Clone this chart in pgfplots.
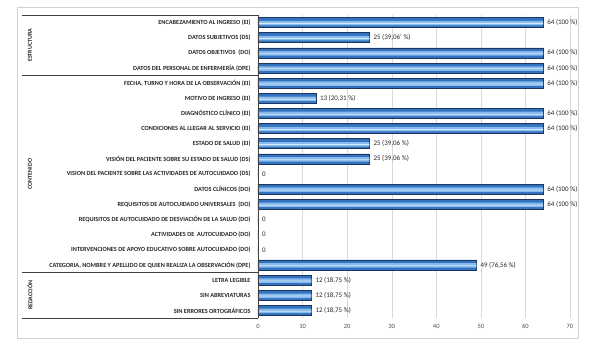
\documentclass[border=0pt]{standalone}
\usepackage{pgfplots}
\pgfplotsset{compat=1.18}
\usepackage{fontspec}
\setmainfont{Carlito}
\definecolor{barE}{HTML}{3372BE}
\definecolor{barM}{HTML}{86B9EC}
\definecolor{barL}{HTML}{D6EAFB}
\definecolor{barD}{HTML}{1B365F}
\pgfplotstableread{
v y
64 0
25 1
64 2
64 3
64 4
13 5
64 6
64 7
25 8
25 9
0 10
64 11
64 12
0 13
0 14
0 15
49 16
12 17
12 18
12 19
}\vals
\begin{document}
\begin{tikzpicture}
\begin{axis}[
  scale only axis, width=312bp, height=303bp,
  xmin=0, xmax=70, ymin=-0.5, ymax=19.5, y dir=reverse,
  clip=false,
  axis line style={draw=none},
  xtick={0,10,...,70},
  xmajorgrids, grid style={draw=gray!30, line width=0.4pt},
  major tick length=0pt,
  ytick={0,...,19},
  yticklabels={
    ENCABEZAMIENTO AL INGRESO (EI),
    DATOS SUBJETIVOS (DS),
    DATOS OBJETIVOS\ \ (DO),
    DATOS DEL PERSONAL DE ENFERMERÍA (DPE),
    {FECHA, TURNO Y HORA DE LA OBSERVACIÓN (EI)},
    MOTIVO DE INGRESO (EI),
    DIAGNÓSTICO CLÍNICO (EI),
    CONDICIONES AL LLEGAR AL SERVICIO (EI),
    ESTADO DE SALUD (EI),
    VISIÓN DEL PACIENTE SOBRE SU ESTADO DE SALUD (DS),
    VISION DEL PACIENTE SOBRE LAS ACTIVIDADES DE AUTOCUIDADO (DS),
    DATOS CLÍNICOS (DO),
    REQUISITOS DE AUTOCUIDADO UNIVERSALES\ \ (DO),
    REQUISITOS DE AUTOCUIDADO DE DESVIACIÓN DE LA SALUD (DO),
    ACTIVIDADES DE\ \ AUTOCUIDADO (DO),
    INTERVENCIONES DE APOYO EDUCATIVO SOBRE AUTOCUIDADO (DO),
    {CATEGORIA, NOMBRE Y APELLIDO DE QUIEN REALIZA LA OBSERVACIÓN (DPE)},
    LETRA LEGIBLE,
    SIN ABREVIATURAS,
    SIN ERRORES ORTOGRÁFICOS},
  yticklabel style={font=\fontsize{6.3}{7}\selectfont\bfseries, text=black!85},
  ytick style={draw=none},
  y tick label style={xshift=-4bp},
  /pgf/number format/assume math mode=true,
  xticklabel style={font=\fontsize{6.5}{7}\selectfont, text=black!70, yshift=-3bp},
  xbar, bar shift=0pt,
]
\addplot[draw=barD, line width=0.6pt, fill=barE, bar width=10bp,
  point meta=explicit symbolic,
  nodes near coords={\pgfplotspointmeta},
  every node near coord/.append style={font=\fontsize{7}{8}\selectfont, text=black!85, anchor=west, xshift=0.5bp}]
coordinates {
  (64,0) [{64 (100 \%)}]
  (25,1) [{25 (39,06' \%)}]
  (64,2) [{64 (100 \%)}]
  (64,3) [{64 (100 \%)}]
  (64,4) [{64 (100 \%)}]
  (13,5) [{13 (20,31 \%)}]
  (64,6) [{64 (100 \%)}]
  (64,7) [{64 (100 \%)}]
  (25,8) [{25 (39,06 \%)}]
  (25,9) [{25 (39,06 \%)}]
  (0,10) [{0}]
  (64,11) [{64 (100 \%)}]
  (64,12) [{64 (100 \%)}]
  (0,13) [{0}]
  (0,14) [{0}]
  (0,15) [{0}]
  (49,16) [{49 (76,56 \%)}]
  (12,17) [{12 (18,75 \%)}]
  (12,18) [{12 (18,75 \%)}]
  (12,19) [{12 (18,75 \%)}]
};
\addplot[draw=none, fill=barM, bar width=4.5bp, bar shift=-0.5bp] table[x=v, y=y] {\vals};
\addplot[draw=none, fill=barL, bar width=0.8bp, bar shift=-0.8bp] table[x=v, y=y] {\vals};
\draw[black!75, line width=0.6pt] (axis cs:0,-0.5) -- (axis cs:0,19.5);
\draw[black!75, line width=0.6pt] (axis cs:0,-0.5) -- ([xshift=-236bp]axis cs:0,-0.5);
\draw[black!75, line width=0.6pt] (axis cs:0,3.5) -- ([xshift=-236bp]axis cs:0,3.5);
\draw[black!75, line width=0.6pt] (axis cs:0,16.5) -- ([xshift=-236bp]axis cs:0,16.5);
\draw[black!75, line width=0.6pt] (axis cs:0,19.5) -- ([xshift=-236bp]axis cs:0,19.5);
\node[rotate=90, font=\fontsize{6}{7}\selectfont\bfseries, text=black!85] at ([xshift=-228bp]axis cs:0,1.5) {ESTRUCTURA};
\node[rotate=90, font=\fontsize{6}{7}\selectfont\bfseries, text=black!85] at ([xshift=-228bp]axis cs:0,10) {CONTENIDO};
\node[rotate=90, font=\fontsize{6}{7}\selectfont\bfseries, text=black!85] at ([xshift=-228bp]axis cs:0,18) {REDACCIÓN};
\coordinate (O) at (rel axis cs:0,0);
\end{axis}
\draw[gray!35, line width=0.8pt] ([xshift=-241bp, yshift=-20bp]O) rectangle ++(561bp,331bp);
\path[use as bounding box] ([xshift=-258bp, yshift=-30bp]O) rectangle ++(589bp,348bp);
\end{tikzpicture}
\end{document}
